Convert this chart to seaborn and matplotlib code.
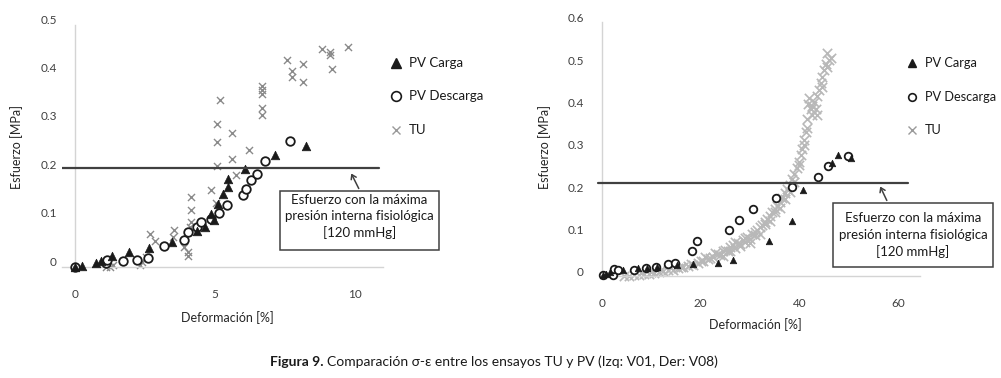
import matplotlib
matplotlib.use("Agg")
import matplotlib.pyplot as plt
import matplotlib.transforms as mtransforms
from matplotlib.patches import Rectangle, FancyArrowPatch
from matplotlib.lines import Line2D
import seaborn as sns

# ---- data (left: V01, right: V08) ----
# left panel
v01_carga_x = [0.0, 0.24, 0.75, 0.93, 1.31, 1.94, 2.64, 3.45, 4.35, 4.64, 4.85, 4.98,
               5.12, 5.27, 5.46, 5.46, 6.07, 7.15, 8.24]
v01_carga_y = [0.0, 0.002, 0.009, 0.013, 0.022, 0.031, 0.039, 0.052, 0.074, 0.083, 0.110, 0.097,
               0.131, 0.150, 0.165, 0.181, 0.203, 0.231, 0.250]
v01_desc_x = [0.0, 1.11, 1.13, 1.70, 2.20, 2.60, 3.19, 3.90, 4.03, 4.35, 4.49, 4.85,
              5.14, 5.44, 5.99, 6.11, 6.27, 6.51, 6.80, 7.68]
v01_desc_y = [0.0, 0.009, 0.014, 0.013, 0.014, 0.018, 0.044, 0.056, 0.072, 0.082, 0.093, 0.099,
              0.112, 0.129, 0.148, 0.161, 0.179, 0.193, 0.220, 0.261]
v01_tu_x = [1.11, 1.25, 1.37, 2.32, 2.38, 2.55, 2.68, 2.86, 3.54, 3.51, 3.90, 4.05, 4.05,
            4.11, 4.13, 4.13, 4.13, 4.85, 5.04, 5.06, 5.06, 5.06, 5.18, 5.60, 5.60, 5.74,
            6.20, 6.69, 6.69, 6.69, 6.69, 6.69, 7.56, 7.76, 7.76, 8.15, 8.15, 8.83, 9.11,
            9.11, 9.17, 9.76]
v01_tu_y = [0.000, 0.001, 0.004, 0.004, 0.011, 0.021, 0.068, 0.054, 0.076, 0.061, 0.042, 0.032, 0.023,
            0.083, 0.093, 0.118, 0.145, 0.160, 0.132, 0.209, 0.259, 0.295, 0.345, 0.224, 0.277, 0.190,
            0.241, 0.314, 0.329, 0.358, 0.366, 0.374, 0.428, 0.393, 0.404, 0.382, 0.419, 0.450, 0.438,
            0.445, 0.410, 0.455]

# right panel
v08_carga_x = [0.3, 0.9, 1.6, 4.25, 7.4, 9.1, 11.1, 15.2, 18.4, 23.6, 26.5, 33.8, 38.5,
               40.7, 46.5, 47.9, 50.4]
v08_carga_y = [0.002, 0.005, 0.010, 0.014, 0.018, 0.020, 0.022, 0.026, 0.028, 0.031, 0.038, 0.083, 0.129,
               0.202, 0.267, 0.285, 0.279]
v08_desc_x = [0.2, 2.2, 2.4, 3.4, 6.5, 8.9, 10.9, 13.4, 14.8, 18.2, 19.3, 25.8, 27.8,
              30.6, 35.3, 38.5, 43.7, 45.7, 49.9]
v08_desc_y = [0.002, 0.002, 0.016, 0.013, 0.014, 0.018, 0.022, 0.028, 0.031, 0.059, 0.083, 0.108, 0.132,
              0.159, 0.185, 0.209, 0.234, 0.259, 0.284]
v08_tu_x = [4.5, 5.5, 6.5, 7.5, 8.5, 9.5, 10.5, 11.5, 12.5, 13.5, 14.5, 15.5, 16.5, 17.5,
            18.5, 19.5, 20.5, 21.5, 22.0, 22.5, 23.5, 24.0, 24.5, 25.0, 25.5, 26.0, 26.5,
            27.0, 27.5, 28.0, 28.5, 29.0, 29.5, 30.0, 30.5, 31.0, 31.5, 32.0, 32.5, 33.0,
            33.5, 34.0, 34.5, 35.0, 35.5, 36.0, 36.5, 37.0, 37.5, 38.0, 38.5, 39.0, 39.5,
            40.0, 40.3, 40.6, 41.0, 41.3, 41.5, 41.8, 42.0, 42.3, 42.6, 43.0, 43.3, 43.6,
            44.0, 44.3, 44.6, 45.0, 45.3, 45.6, 46.0, 46.4,
            # second pass of readings (the band is several markers thick)
            8.0, 10.0, 12.0, 14.0, 16.0, 18.0, 20.0, 21.0, 23.0, 24.5, 26.0, 27.0, 28.0,
            29.0, 30.0, 31.0, 32.0, 33.0, 34.0, 35.0, 36.0, 37.0, 38.0, 39.0, 40.0, 41.0,
            41.5, 42.5, 43.5, 44.5, 45.5]
v08_tu_y = [0.000, 0.001, 0.002, 0.003, 0.004, 0.005, 0.007, 0.009, 0.011, 0.013, 0.015, 0.018, 0.021, 0.024,
            0.027, 0.031, 0.035, 0.040, 0.043, 0.046, 0.052, 0.050, 0.058, 0.062, 0.060, 0.068, 0.072,
            0.065, 0.078, 0.075, 0.085, 0.080, 0.092, 0.088, 0.100, 0.097, 0.108, 0.115, 0.120, 0.128,
            0.135, 0.142, 0.150, 0.158, 0.166, 0.175, 0.185, 0.195, 0.205, 0.215, 0.228, 0.240, 0.255,
            0.270, 0.285, 0.300, 0.320, 0.340, 0.370, 0.405, 0.420, 0.395, 0.380, 0.410, 0.395, 0.425,
            0.440, 0.455, 0.470, 0.485, 0.500, 0.525, 0.510, 0.515,
            0.006, 0.009, 0.013, 0.018, 0.022, 0.028, 0.036, 0.044, 0.055, 0.048, 0.060, 0.080,
            0.070, 0.090, 0.078, 0.104, 0.100, 0.122, 0.130, 0.150, 0.160, 0.182, 0.198, 0.222,
            0.262, 0.310, 0.350, 0.400, 0.380, 0.445, 0.492]

limit_left = 0.2055
limit_right = 0.22

W, H = 1001, 378
sns.set_style("white")
plt.rcParams['font.family'] = ['Lato', 'DejaVu Sans']

fig = plt.figure(figsize=(W / 100, H / 100), dpi=100)


def fx(px):
    return px / W


def fy(py):
    return 1 - py / H


def style_axis(ax, xlim, ylim, xticks, yticks, label_shift):
    ax.set_xlim(*xlim)
    ax.set_ylim(*ylim)
    for s in ['top', 'right']:
        ax.spines[s].set_visible(False)
    ax.spines['left'].set_position(('data', 0))
    for s in ['left', 'bottom']:
        ax.spines[s].set_color('#d4d4d4')
        ax.spines[s].set_linewidth(1.0)
    ax.set_xticks(xticks)
    ax.set_xticklabels([str(t) for t in xticks])
    ax.set_yticks(yticks)
    ax.set_yticklabels(['0'] + [f'{t:.1f}' for t in yticks[1:]])
    ax.tick_params(length=0, labelsize=8.5, colors='#404040')
    ax.tick_params(axis='y', pad=13)
    ax.tick_params(axis='x', pad=16)
    off = mtransforms.ScaledTranslation(0, label_shift / 100, fig.dpi_scale_trans)
    for lab in ax.get_yticklabels():
        lab.set_transform(lab.get_transform() + off)
    ax.set_xlabel('')
    ax.set_ylabel('')


def draw_panel(ax, cx, cy, dx, dy, tx, ty, sizes, tu_color, tu_lw):
    sns.scatterplot(x=tx, y=ty, ax=ax, marker='x', color=tu_color, s=sizes[2],
                    linewidth=tu_lw, clip_on=False, zorder=2)
    sns.scatterplot(x=dx, y=dy, ax=ax, marker='o', facecolor='white', edgecolor='#1a1a1a',
                    s=sizes[1], linewidth=1.3, clip_on=False, zorder=3)
    sns.scatterplot(x=cx, y=cy, ax=ax, marker='^', color='#1a1a1a', edgecolor='#1a1a1a',
                    s=sizes[0], linewidth=0.5, clip_on=False, zorder=4)


# left panel
ax1 = fig.add_axes([fx(62), fy(267), fx(383) - fx(62), fy(25) - fy(267)])
draw_panel(ax1, v01_carga_x, v01_carga_y, v01_desc_x, v01_desc_y, v01_tu_x, v01_tu_y,
           (38, 38, 26), '#8a8a8a', 1.0)
style_axis(ax1, (-0.46, 11.0), (0, 0.5), [0, 5, 10], [0, 0.1, 0.2, 0.3, 0.4, 0.5], 6)
ax1.plot([-0.46, 10.87], [limit_left, limit_left], color='#404040', lw=1.6, zorder=5)

# right panel
ax2 = fig.add_axes([fx(600), fy(276), fx(920) - fx(600), fy(21.7) - fy(276)])
draw_panel(ax2, v08_carga_x, v08_carga_y, v08_desc_x, v08_desc_y, v08_tu_x, v08_tu_y,
           (22, 30, 45), '#b8b8b8', 1.2)
style_axis(ax2, (-0.34, 64.4), (0, 0.6), [0, 20, 40, 60], [0, 0.1, 0.2, 0.3, 0.4, 0.5, 0.6], 4)
ax2.plot([-0.8, 62.0], [limit_right, limit_right], color='#404040', lw=1.6, zorder=5,
         clip_on=False)

# axis titles
lab_kw = dict(fontsize=9, color='#262626')
fig.text(fx(227), fy(318), 'Deformación [%]', ha='center', va='center', **lab_kw)
fig.text(fx(17), fy(147), 'Esfuerzo [MPa]', ha='center', va='center', rotation=90, **lab_kw)
fig.text(fx(755), fy(325), 'Deformación [%]', ha='center', va='center', **lab_kw)
fig.text(fx(545), fy(147), 'Esfuerzo [MPa]', ha='center', va='center', rotation=90, **lab_kw)


# legends (placed by hand like the original)
def legend_at(x0, ys, msizes, fs):
    handles = [
        Line2D([], [], ls='', marker='^', color='#1a1a1a', markersize=msizes[0]),
        Line2D([], [], ls='', marker='o', mfc='white', mec='#1a1a1a', mew=1.2, markersize=msizes[1]),
        Line2D([], [], ls='', marker='x', color='#9a9a9a', markersize=msizes[2]),
    ]
    names = ['PV Carga', 'PV Descarga', 'TU']
    for h, n, y in zip(handles, names, ys):
        h.set_data([fx(x0)], [fy(y)])
        h.set_transform(fig.transFigure)
        fig.add_artist(h)
        fig.text(fx(x0 + 13), fy(y), n, ha='left', va='center', fontsize=fs, color='#1a1a1a')


legend_at(396, [63, 96, 130], (7, 7, 6), 9.5)
legend_at(912, [63, 97, 130], (5.5, 5.5, 6), 9.2)


# annotation boxes
def note_box(x0, y0, x1, y1, lines_y, tail, head):
    fig.add_artist(Rectangle((fx(x0), fy(y1)), fx(x1) - fx(x0), fy(y0) - fy(y1),
                             transform=fig.transFigure, fill=False, ec='#404040', lw=1.1))
    cx = (x0 + x1) / 2
    txt = ['Esfuerzo con la máxima', 'presión interna fisiológica', '[120 mmHg]']
    for t, y in zip(txt, lines_y):
        fig.text(fx(cx), fy(y), t, ha='center', va='center', fontsize=9.5, color='#1a1a1a')
    fig.add_artist(FancyArrowPatch(
        (fx(tail[0]), fy(tail[1])), (fx(head[0]), fy(head[1])), transform=fig.transFigure,
        arrowstyle='->,head_length=3,head_width=2', color='#404040', lw=1.1))


note_box(280, 191, 439, 250, [200, 216, 233], (360, 191), (350, 171))
note_box(833, 203, 993, 267, [218, 235, 252], (888, 203), (879, 184))

# caption
r = fig.canvas.get_renderer()
t1 = fig.text(fx(270), fy(362), 'Figura 9.', ha='left', va='center', fontsize=10,
              fontweight='bold', color='#1a1a1a')
bb = t1.get_window_extent(renderer=r)
fig.text(bb.x1 / W + fx(4), fy(362), 'Comparación σ-ε entre los ensayos TU y PV (Izq: V01, Der: V08)',
         ha='left', va='center', fontsize=10, color='#1a1a1a')

fig.savefig('out.png', dpi=100)
